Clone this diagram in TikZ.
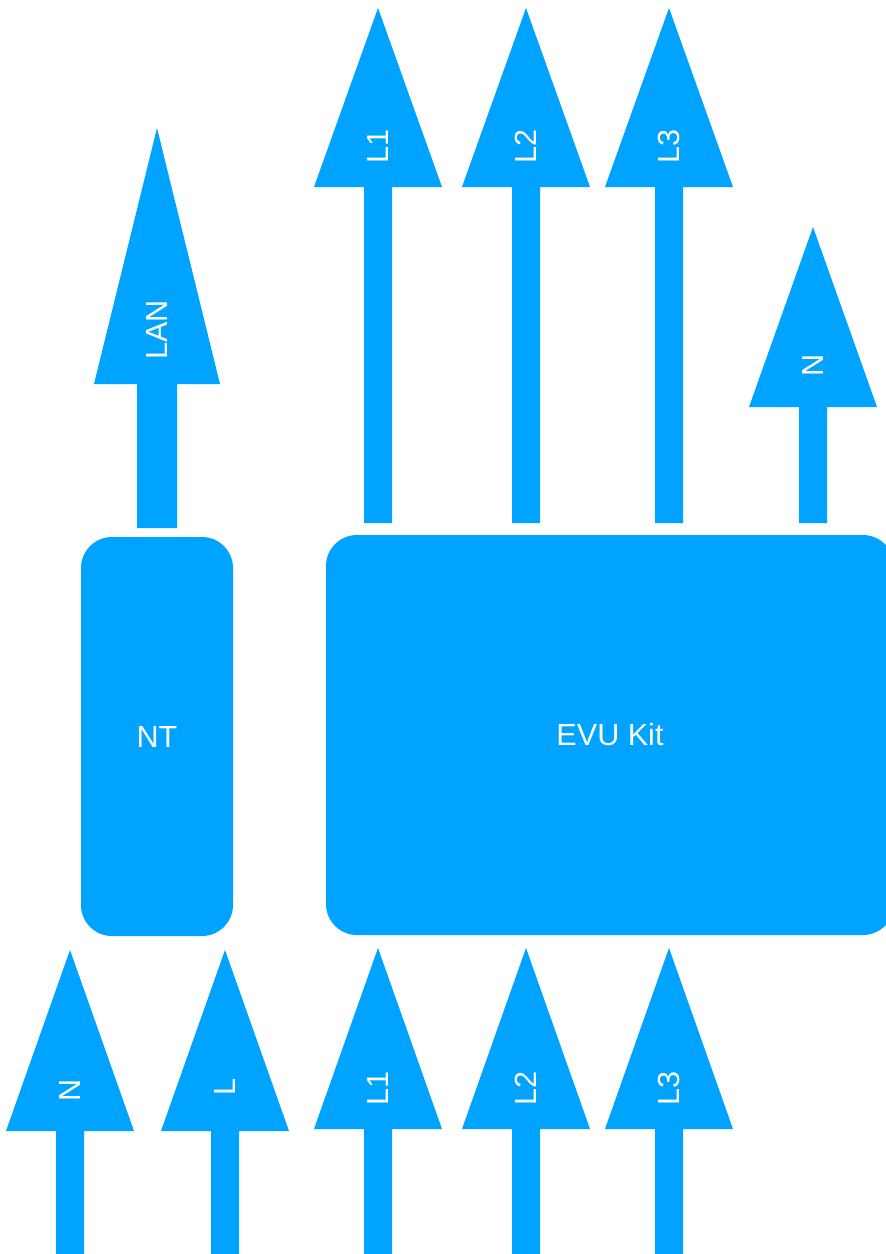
\documentclass[tikz,border=0pt]{standalone}
\usepackage{fontspec}
\setmainfont{Liberation Sans}
\usetikzlibrary{positioning}
\definecolor{wireblue}{RGB}{0,163,255}
\tikzset{
  box/.style={fill=wireblue, rounded corners=15.5pt, text=white, inner sep=0pt},
  wire/.style={fill=wireblue},
  tag/.style={text=white, rotate=90, inner sep=0pt},
}

\begin{document}
\begin{tikzpicture}[x=0.5pt, y=-0.5pt]

  \fontsize{15.3}{18}\selectfont

  \newcommand\Sw{14};  % half width of a wire
  \newcommand\Hw{64};  % half width of its head
  % #1 x, #2 foot, #3 head base, #4 tip, #5 text, #6 text y, #7 name
  \newcommand\wire[7]{%
    \fill[wire] (#1-\Sw, #2) -- (#1-\Sw, #3) -- (#1-\Hw, #3) -- (#1, #4)
      -- (#1+\Hw, #3) -- (#1+\Sw, #3) -- (#1+\Sw, #2) -- cycle;
    \node[tag] (#7) at (#1, #6) {#5};}

  \useasboundingbox (0,0) rectangle (886,1254);
  \clip (0,0) rectangle (886,1254);

  %% boxes
  \node[box, minimum width=76pt, minimum height=199.5pt] (nt) at (157,736.5) {NT};
  \node[box, minimum width=284pt, minimum height=200pt] (evu) at (610,735) {EVU Kit};

  %% out of the boxes
  {\renewcommand\Sw{20}\renewcommand\Hw{63}%
   \wire{157}{528}{384}{128}{LAN}{330}{lan}}
  \wire{378}{523}{187}{8}{L1}{146}{outlone}
  \wire{526}{523}{187}{8}{L2}{146}{outltwo}
  \wire{669}{523}{187}{8}{L3}{146}{outlthree}
  \wire{813}{523}{407}{227}{N}{365}{outn}

  %% into the boxes
  \wire{70}{1254}{1131}{950}{N}{1090}{inn}
  \wire{225}{1254}{1131}{950}{L}{1087}{inl}
  \wire{378}{1254}{1129}{948}{L1}{1088}{inlone}
  \wire{526}{1254}{1129}{948}{L2}{1088}{inltwo}
  \wire{669}{1254}{1129}{948}{L3}{1088}{inlthree}

\end{tikzpicture}
\end{document}
